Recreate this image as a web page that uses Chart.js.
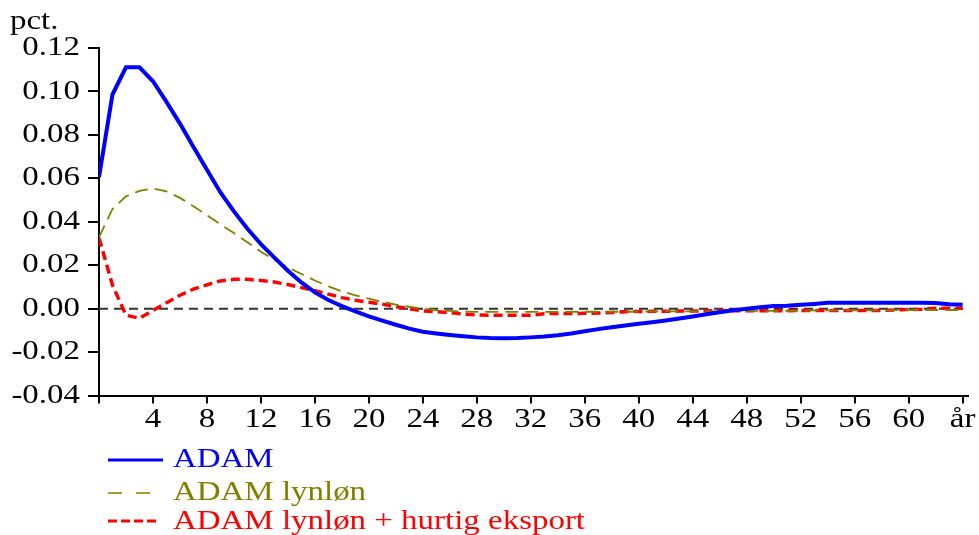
<!DOCTYPE html>
<html>
<head>
<meta charset="utf-8">
<script src="https://cdn.jsdelivr.net/npm/chart.js@4.4.0/dist/chart.umd.min.js"></script>
<style>
  html, body { margin: 0; padding: 0; background: #fff; }
  #wrap { width: 979px; height: 535px; position: relative; }
</style>
</head>
<body>
<div id="wrap"><canvas id="chart"></canvas></div>
<script>
// Quarters after the shock (0..64), last tick is labelled "år"
const quarters = Array.from({ length: 65 }, (_, i) => i);

// ADAM
const adam = [
  0.0605, 0.0986, 0.1111, 0.1111, 0.1047, 0.0952, 0.0852, 0.0744, 0.0640, 0.0535,
  0.0448, 0.0368, 0.0297, 0.0235, 0.0175, 0.0121, 0.0075, 0.0040, 0.0012, -0.0012,
  -0.0035, -0.0055, -0.0074, -0.0092, -0.0106, -0.0114, -0.0121, -0.0127, -0.0132, -0.0135,
  -0.0136, -0.0135, -0.0132, -0.0128, -0.0122, -0.0114, -0.0104, -0.0094, -0.0085, -0.0077,
  -0.0069, -0.0062, -0.0054, -0.0045, -0.0036, -0.0026, -0.0016, -0.0007, 0.0000, 0.0007,
  0.0012, 0.0014, 0.0018, 0.0022, 0.0027, 0.0027, 0.0027, 0.0027, 0.0027, 0.0027,
  0.0027, 0.0027, 0.0026, 0.0021, 0.0018
];

// ADAM lynløn
const lynlon = [
  0.0328, 0.0459, 0.0517, 0.0542, 0.0553, 0.0540, 0.0510, 0.0472, 0.0430, 0.0388,
  0.0348, 0.0306, 0.0262, 0.0224, 0.0190, 0.0160, 0.0130, 0.0103, 0.0080, 0.0061,
  0.0046, 0.0032, 0.0019, 0.0009, 0.0000, -0.0006, -0.0010, -0.0013, -0.0015, -0.0015,
  -0.0015, -0.0015, -0.0015, -0.0015, -0.0015, -0.0014, -0.0014, -0.0014, -0.0014, -0.0014,
  -0.0014, -0.0012, -0.0012, -0.0012, -0.0012, -0.0012, -0.0012, -0.0010, -0.0010, -0.0010,
  -0.0010, -0.0010, -0.0010, -0.0008, -0.0008, -0.0008, -0.0008, -0.0008, -0.0008, -0.0006,
  -0.0006, -0.0006, -0.0006, -0.0006, -0.0006
];

// ADAM lynløn + hurtig eksport
const hurtig = [
  0.0326, 0.0108, -0.0030, -0.0044, -0.0008, 0.0027, 0.0062, 0.0090, 0.0110, 0.0128,
  0.0135, 0.0135, 0.0130, 0.0123, 0.0111, 0.0097, 0.0083, 0.0067, 0.0051, 0.0039,
  0.0030, 0.0021, 0.0009, 0.0000, -0.0010, -0.0014, -0.0018, -0.0025, -0.0029, -0.0030,
  -0.0030, -0.0030, -0.0030, -0.0023, -0.0022, -0.0022, -0.0021, -0.0020, -0.0017, -0.0014,
  -0.0013, -0.0012, -0.0012, -0.0011, -0.0011, -0.0009, -0.0009, -0.0009, -0.0009, -0.0009,
  -0.0009, -0.0009, -0.0008, -0.0008, -0.0008, -0.0008, -0.0008, -0.0008, -0.0008, -0.0006,
  -0.0004, -0.0002, 0.0002, 0.0002, 0.0002
];

const seriesLabels = ['ADAM', 'ADAM lynløn', 'ADAM lynløn + hurtig eksport'];
const seriesColors = ['#0000ff', '#808000', '#ff0000'];

Chart.defaults.font.family = "'Liberation Serif', 'Times New Roman', serif";
Chart.defaults.color = '#000';

// The original figure has horizontally widened lettering, so stretch text a bit
const canvas = document.getElementById('chart');
const ctx2d = canvas.getContext('2d');
const plainFillText = ctx2d.fillText.bind(ctx2d);
ctx2d.fillText = function(text, x, y) {
  this.save();
  this.translate(x, y);
  this.scale(1.22, 1);
  plainFillText(text, 0, 0);
  this.restore();
};

function toPoints(values) {
  return values.map((v, i) => ({ x: quarters[i], y: v }));
}

// Dashed zero line
const zeroLine = {
  id: 'zeroLine',
  beforeDatasetsDraw(chart) {
    const { ctx, chartArea } = chart;
    const y = chart.scales.y.getPixelForValue(0);
    ctx.save();
    ctx.strokeStyle = '#333';
    ctx.lineWidth = 2;
    ctx.setLineDash([9, 6]);
    ctx.beginPath();
    ctx.moveTo(chartArea.left, y);
    ctx.lineTo(chartArea.right, y);
    ctx.stroke();
    ctx.restore();
  }
};

// Unit label and stacked legend underneath the chart
const extras = {
  id: 'extras',
  afterDraw(chart) {
    const ctx = chart.ctx;
    ctx.save();
    ctx.font = "27px 'Liberation Serif', serif";
    ctx.textAlign = 'left';
    ctx.textBaseline = 'alphabetic';
    ctx.fillStyle = '#000';
    ctx.fillText('pct.', 10, 29);

    const rows = [
      { lineY: 460, textY: 467, width: 3, dash: [], x2: 163 },
      { lineY: 493, textY: 500, width: 1.5, dash: [14, 14], x2: 150 },
      { lineY: 521, textY: 529, width: 3, dash: [9, 4], x2: 160 }
    ];
    rows.forEach((r, i) => {
      ctx.strokeStyle = seriesColors[i];
      ctx.lineWidth = r.width;
      ctx.setLineDash(r.dash);
      ctx.beginPath();
      ctx.moveTo(108, r.lineY);
      ctx.lineTo(r.x2, r.lineY);
      ctx.stroke();
      ctx.fillStyle = seriesColors[i];
      ctx.fillText(seriesLabels[i], 173, r.textY);
    });
    ctx.restore();
  }
};

new Chart(canvas, {
  type: 'line',
  data: {
    datasets: [
      {
        label: seriesLabels[0],
        data: toPoints(adam),
        borderColor: seriesColors[0],
        borderWidth: 4,
        pointRadius: 0,
        tension: 0
      },
      {
        label: seriesLabels[1],
        data: toPoints(lynlon),
        borderColor: seriesColors[1],
        borderWidth: 1.8,
        borderDash: [13, 7],
        pointRadius: 0,
        tension: 0
      },
      {
        label: seriesLabels[2],
        data: toPoints(hurtig),
        borderColor: seriesColors[2],
        borderWidth: 3.5,
        borderDash: [9, 5],
        borderCapStyle: 'butt',
        pointRadius: 0,
        tension: 0
      }
    ]
  },
  options: {
    responsive: true,
    maintainAspectRatio: false,
    animation: false,
    layout: {
      padding: { top: 48, left: 0, right: 11, bottom: 99 }
    },
    plugins: {
      legend: { display: false },
      tooltip: { enabled: false }
    },
    scales: {
      x: {
        type: 'linear',
        min: 0,
        max: 64.4,
        afterBuildTicks: scale => {
          scale.ticks = quarters.filter(q => q % 4 === 0).map(q => ({ value: q }));
        },
        ticks: {
          stepSize: 4,
          autoSkip: false,
          maxRotation: 0,
          padding: 0,
          font: { size: 27 },
          color: '#000',
          callback: v => (v === 0 ? '' : v === 64 ? 'år' : String(v))
        },
        grid: {
          display: true,
          drawOnChartArea: false,
          drawTicks: true,
          tickLength: 8,
          color: '#000',
          lineWidth: 2
        },
        border: { display: true, color: '#000', width: 2 }
      },
      y: {
        min: -0.04,
        max: 0.12,
        afterFit: scale => { scale.width = 99; },
        ticks: {
          stepSize: 0.02,
          padding: 8,
          font: { size: 27 },
          color: '#000',
          callback: v => (Math.abs(v) < 1e-9 ? '0.00' : v.toFixed(2))
        },
        grid: {
          display: true,
          drawOnChartArea: false,
          drawTicks: true,
          tickLength: 11,
          color: '#000',
          lineWidth: 2
        },
        border: { display: true, color: '#000', width: 2 }
      }
    }
  },
  plugins: [zeroLine, extras]
});
</script>
</body>
</html>
